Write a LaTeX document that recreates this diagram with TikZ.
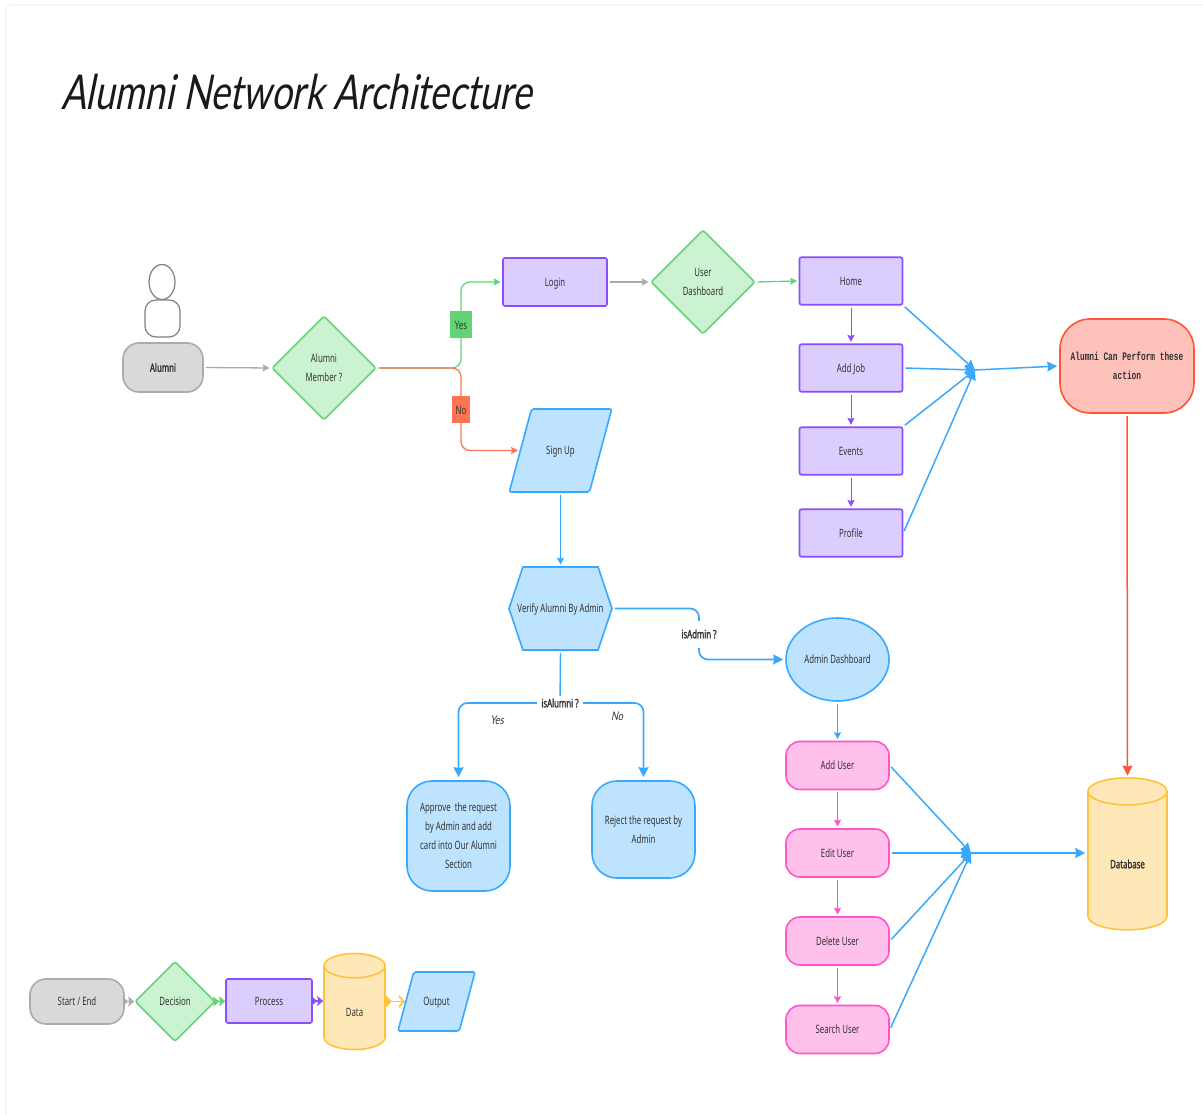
\documentclass[tikz,border=0pt]{standalone}
\usepackage{fontspec}
\setmainfont[FakeStretch=0.68]{Noto Sans}
\newfontfamily\boldf[FakeStretch=0.68,FakeBold=1.6]{Noto Sans}
\newfontfamily\monof[FakeStretch=0.68]{Liberation Mono}
\newfontfamily\handf[FakeStretch=0.76,FakeSlant=0.2]{Lato}
\usetikzlibrary{arrows.meta,shapes.geometric,shapes.symbols,backgrounds}
\definecolor{gb}{HTML}{ABABAB}\definecolor{gf}{HTML}{D9D9D9}
\definecolor{grb}{HTML}{62D474}\definecolor{grf}{HTML}{CCF3D1}
\definecolor{pb}{HTML}{8A4DFF}\definecolor{pf}{HTML}{DCCDFF}
\definecolor{bb}{HTML}{38A9FF}\definecolor{bf}{HTML}{BDE3FF}
\definecolor{kb}{HTML}{FF55C8}\definecolor{kf}{HTML}{FFC0EC}
\definecolor{yb}{HTML}{FFC23D}\definecolor{yf}{HTML}{FFE8B8}
\definecolor{rb}{HTML}{FF5533}\definecolor{rf}{HTML}{FFC2BB}
\definecolor{orl}{HTML}{FF7452}\definecolor{ink}{HTML}{333333}
\tikzset{
 base/.style={draw,line width=1.6pt,text=ink,font=\fontsize{11.5}{19}\selectfont,align=center,inner sep=0pt},
 oneline/.style={text height=8.5pt,text depth=0pt},
 box/.style={base,rectangle,rounded corners=2pt,minimum width=#1},
 purplebox/.style={box=103pt,oneline,draw=pb,fill=pf,minimum height=47.5pt},
 pinkbox/.style={base,oneline,rectangle,rounded corners=14pt,draw=kb,fill=kf,minimum width=103pt,minimum height=48pt},
 dia/.style={base,diamond,aspect=1,rounded corners=2pt,draw=grb,fill=grf,minimum width=#1,minimum height=#1},
 para/.style={base,oneline,trapezium,trapezium left angle=75,trapezium right angle=105,inner xsep=0pt,inner ysep=#1,rounded corners=2pt,draw=bb,fill=bf},
 cyl/.style={base,oneline,cylinder,shape border rotate=90,shape aspect=#1,cylinder uses custom fill,cylinder end fill=yf,cylinder body fill=yf,draw=yb},
 term/.style={base,oneline,rectangle,draw=gb,fill=gf,rounded corners=16pt},
 blueround/.style={base,rectangle,draw=bb,fill=bf,rounded corners=25pt,minimum width=103pt},
 conn/.style={line width=1.3pt,shorten >=1.5pt,shorten <=2pt,-{Stealth[length=7pt,width=7pt,inset=1pt]}},
 fine/.style={conn,line width=1pt},
 plainline/.style={line width=1.4pt,shorten <=2pt,draw=bb},
 fan/.style={line width=1.5pt,draw=bb,shorten <=2pt,-{Stealth[length=10pt,width=10pt,inset=1pt]}},
 thickarrow/.style={line width=1.7pt,draw=bb,rounded corners=9pt,-{Stealth[length=10pt,width=10pt,inset=1pt]}},
 tag/.style={inner sep=0pt,text=ink,font=\fontsize{11.5}{14}\selectfont},
 asklabel/.style={fill=white,inner sep=0pt,text=ink,font=\boldf\fontsize{11.5}{14}\selectfont},
 handnote/.style={inner sep=0pt,text=ink,font=\handf\fontsize{12}{14}\selectfont},
 legendtip/.style={line width=1.5pt,-{Stealth[length=6pt,width=10pt,inset=1pt] Stealth[length=6pt,width=10pt,inset=1pt]}},
}
\begin{document}
\begin{tikzpicture}[x=1pt,y=-1pt]
\useasboundingbox (0,0) rectangle (1203,1115);
\node[anchor=west,inner sep=0pt,text=black!90,font=\handf\fontsize{48}{52}\selectfont] (title) at (61,92) {Alumni Network Architecture};

% person
\node[draw=gray,fill=white,line width=1.2pt,ellipse,minimum width=26pt,minimum height=35pt,inner sep=0pt] (head) at (162,282) {};
\node[draw=gray,fill=white,line width=1.2pt,rectangle,rounded corners=11pt,minimum width=35pt,minimum height=37pt,inner sep=0pt] (torso) at (162.5,318.5) {};
\node[term,minimum width=80pt,minimum height=49pt,font=\boldf\fontsize{11.5}{19}\selectfont] (alumni) at (163,367.5) {Alumni};

\node[dia=104pt] (member) at (324,368) {Alumni\\Member ?};
\node[box=104pt,oneline,draw=pb,fill=pf,minimum height=48pt] (login) at (555,282) {Login};
\node[dia=104pt] (udash) at (703,282) {User\\Dashboard};
\node[fill=grb,minimum width=22pt,minimum height=27pt,tag] (yes) at (461,325) {Yes};
\node[fill=orl,minimum width=18pt,minimum height=27pt,tag] (no) at (461,410) {No};
\node[para=37.25pt] (signup) at (560.5,450.5) {\makebox[58pt]{Sign Up}};

\node[purplebox] (home) at (851,281) {Home};
\node[purplebox] (addjob) at (851,368) {Add Job};
\node[purplebox] (events) at (851,451) {Events};
\node[purplebox] (profile) at (851,533) {Profile};
\node[base,rectangle,draw=rb,fill=rf,rounded corners=30pt,minimum width=134pt,minimum height=94pt,font=\monof\bfseries\fontsize{11.5}{19}\selectfont] (perform) at (1127,366) {Alumni Can Perform these\\action};

\node[base,oneline,signal,signal to=west and east,signal pointer angle=143,draw=bb,fill=bf,minimum width=103pt,minimum height=83pt] (verify) at (560.5,608.5) {\makebox[75pt]{Verify Alumni By Admin}};
\node[base,oneline,ellipse,draw=bb,fill=bf,minimum width=103pt,minimum height=83pt] (adash) at (837.5,659.5) {Admin Dashboard};
\node[asklabel,minimum height=27pt,minimum width=42pt] (isadmin) at (699,634) {isAdmin ?};
\node[asklabel,minimum width=46pt,minimum height=14pt] (isalumni) at (560,703) {isAlumni ?};
\node[blueround,minimum height=110pt] (approve) at (458.5,836) {Approve\ \ the request\\by Admin and add\\card into Our Alumni\\Section};
\node[blueround,minimum height=97pt] (reject) at (643.5,829.5) {Reject the request by\\Admin};
\node[handnote] (yesnote) at (497,720) {Yes};
\node[handnote] (nonote) at (617,716) {No};

\node[pinkbox] (adduser) at (837.5,765.5) {Add User};
\node[pinkbox] (edituser) at (837.5,853) {Edit User};
\node[pinkbox] (deluser) at (837.5,941) {Delete User};
\node[pinkbox] (searchuser) at (837.5,1029.5) {Search User};
\node[cyl=0.78,minimum width=79pt,minimum height=152pt,font=\boldf\fontsize{11.5}{19}\selectfont] (db) at (1127.5,861) {\raisebox{-3pt}{Database}};

% legend
\node[term,minimum width=94pt,minimum height=45pt] (lstart) at (77,1001.5) {Start / End};
\node[dia=80pt] (ldec) at (175,1001.5) {Decision};
\node[box=86pt,oneline,draw=pb,fill=pf,minimum height=44pt] (lproc) at (269,1001) {Process};
\node[cyl=1.4,minimum width=61pt,minimum height=96pt] (ldata) at (354.5,1008) {\raisebox{-4pt}{Data}};
\node[para=25.25pt] (lout) at (436.5,1001.5) {\makebox[45.5pt]{Output}};

\coordinate (j1) at (975,370);
\coordinate (j2) at (971,853);

\begin{scope}[on background layer]
\draw[line width=1pt,draw=black!7,rounded corners=6pt] (6,1115) -- (6,5) -- (1203,5);
\draw[conn,draw=gb] (alumni.east) -- (member.west);
\draw[conn,draw=grb,rounded corners=9pt] (member.east) -| (yes.center) |- (login.west);
\draw[conn,draw=orl,rounded corners=9pt] (member.east) -| (no.center) |- (signup.west);
\draw[conn,draw=gb] (login.east) -- (udash.west);
\draw[conn,draw=grb] (udash.east) -- (home.west);
\draw[fine,draw=pb] (home.south) -- (addjob.north);
\draw[fine,draw=pb] (addjob.south) -- (events.north);
\draw[fine,draw=pb] (events.south) -- (profile.north);
\draw[fan] (home.south east) -- (j1);
\draw[fan] (addjob.east) -- (j1);
\draw[fan] (events.north east) -- (j1);
\draw[fan] (profile.east) -- (j1);
\draw[fan,shorten <=0pt,shorten >=2pt] (j1) -- (perform.west);
\draw[conn,draw=rb,line width=1.5pt,-{Stealth[length=10pt,width=10pt,inset=1pt]}] (perform.south) -- (db.north);
\draw[fine,draw=bb] (signup.south) -- (verify.north);
\draw[thickarrow,shorten <=2pt,shorten >=2pt] (verify.east) -| (isadmin.center) |- (adash.west);
\draw[plainline] (verify.south) -- (isalumni.center);
\draw[thickarrow,shorten >=3pt] (isalumni.center) -| (approve.north);
\draw[thickarrow,shorten >=3pt] (isalumni.center) -| (reject.north);
\draw[fine,draw=bb] (adash.south) -- (adduser.north);
\draw[fine,draw=kb] (adduser.south) -- (edituser.north);
\draw[fine,draw=kb] (edituser.south) -- (deluser.north);
\draw[fine,draw=kb] (deluser.south) -- (searchuser.north);
\draw[fan] (adduser.east) -- (j2);
\draw[fan] (edituser.east) -- (j2);
\draw[fan] (deluser.east) -- (j2);
\draw[fan] (searchuser.east) -- (j2);
\draw[fan,shorten <=0pt,shorten >=2pt] (j2) -- (j2 -| db.west);
\draw[legendtip,draw=gb] (lstart.east) -- (ldec.west);
\draw[legendtip,draw=grb] (ldec.east) -- (lproc.west);
\draw[legendtip,draw=pb] (lproc.east) -- (lproc.east -| ldata.west);
\draw[draw=yb,line width=1.6pt,{Stealth[reversed,length=6pt,width=12pt,inset=0pt]}-{Straight Barb[length=5pt,width=11pt]}] (lout.west -| ldata.east) -- (lout.west);
\end{scope}
\end{tikzpicture}
\end{document}
